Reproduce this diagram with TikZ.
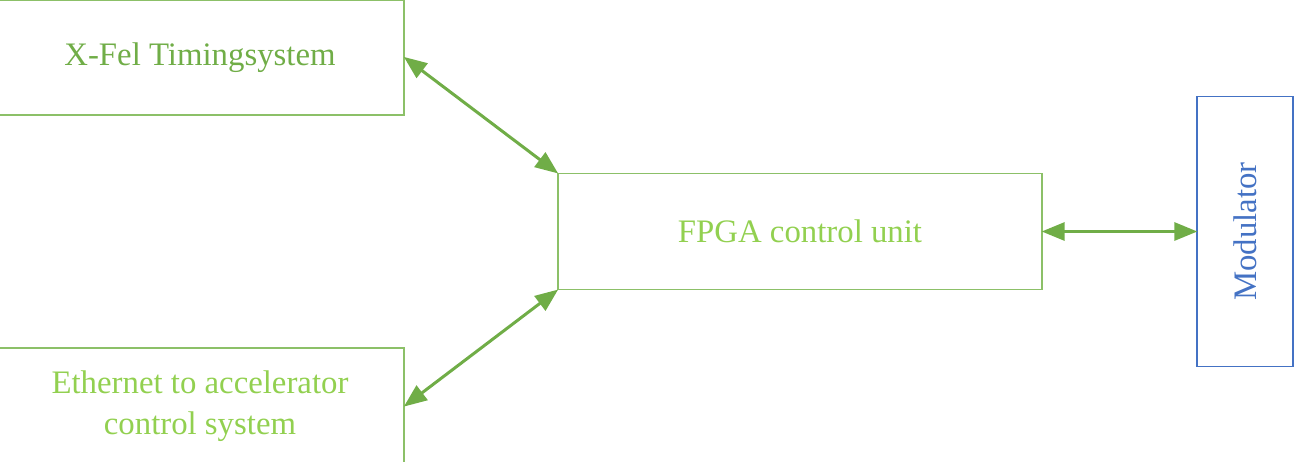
\documentclass[tikz,border=0pt]{standalone}
\usepackage{fontspec}
\setmainfont{Liberation Serif}
\usetikzlibrary{arrows.meta}
\definecolor{boxgreen}{HTML}{8CC068}
\definecolor{darkgreen}{HTML}{70AD47}
\definecolor{lightgreen}{HTML}{92D050}
\definecolor{modblue}{HTML}{4472C4}
\begin{document}
\begin{tikzpicture}[x=1pt,y=-1pt,
  block/.style={draw=boxgreen,line width=1.3pt,rectangle,inner sep=0pt,
    font=\fontsize{32.8}{40.5}\selectfont,align=center},
  link/.style={draw=darkgreen,line width=3pt,
    {Triangle[length=23pt,width=18pt]}-{Triangle[length=23pt,width=18pt]},
    shorten <=-1pt,shorten >=-1pt}]
  \useasboundingbox (0,0) rectangle (1299,461);
  \clip (0,0) rectangle (1299,461);
  \node[block,text=darkgreen,minimum width=408pt,minimum height=115pt]
    (timing) at (200,57.5) {X-Fel Timingsystem};
  \node[block,text=lightgreen,minimum width=408pt,minimum height=116pt]
    (eth) at (200,406) {Ethernet to accelerator\\control system};
  \node[block,text=lightgreen,minimum width=484pt,minimum height=116pt]
    (fpga) at (800,231.5) {FPGA control unit};
  \node[block,draw=modblue,text=modblue,minimum width=96pt,minimum height=270pt]
    (mod) at (1245,231.5) {};
  \node[text=modblue,rotate=90,font=\fontsize{32.8}{40.5}\selectfont]
    (modlabel) at (mod.center) {Modulator};
  \draw[link] (timing.east) -- (fpga.north west);
  \draw[link] (eth.east) -- (fpga.south west);
  \draw[link] (fpga.east) -- (mod.west);
\end{tikzpicture}
\end{document}
